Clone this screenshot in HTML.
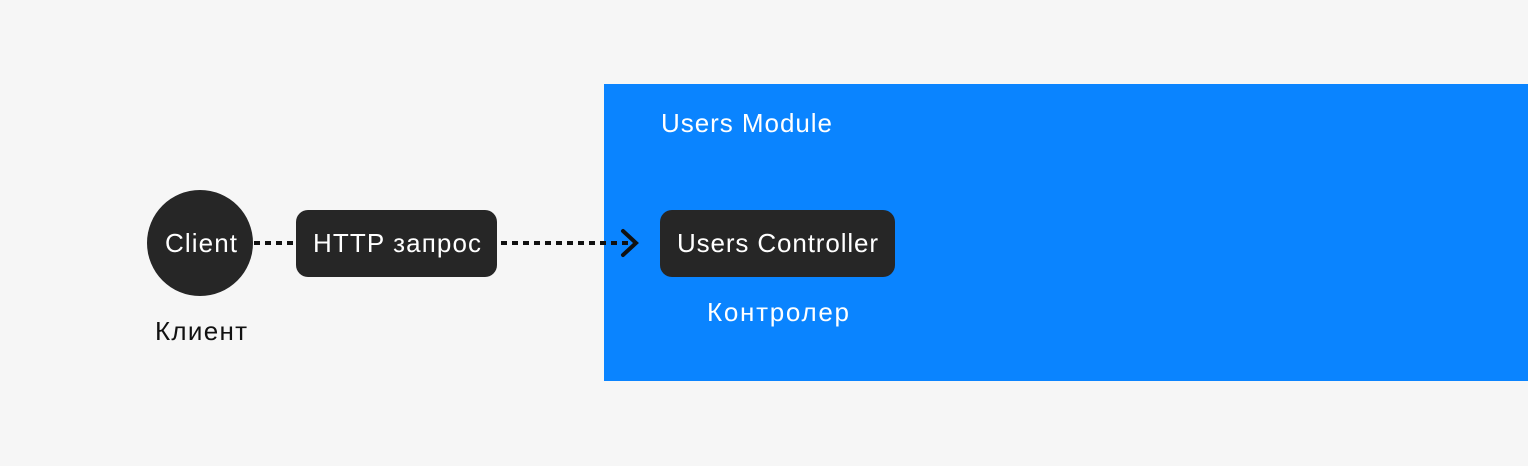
<!DOCTYPE html>
<html><head><meta charset="utf-8"><style>
html,body{margin:0;padding:0;width:1528px;height:466px;background:#f6f6f6;overflow:hidden}
svg text{font-family:"Liberation Sans",sans-serif}
</style></head><body>
<svg width="1528" height="466" xmlns="http://www.w3.org/2000/svg">
<rect x="0" y="0" width="1528" height="466" fill="#f6f6f6"/>
<rect x="604" y="84" width="924" height="297" fill="#0a84ff"/>
<text x="661" y="132" font-size="26" fill="#fff" textLength="171" lengthAdjust="spacing">Users Module</text>
<circle cx="200" cy="243" r="53" fill="#262626"/>
<text x="165" y="252" font-size="26" fill="#fff" textLength="72" lengthAdjust="spacing">Client</text>
<text x="155" y="340" font-size="26" fill="#111" textLength="92" lengthAdjust="spacing">Клиент</text>
<line x1="254" y1="243" x2="296" y2="243" stroke="#111" stroke-width="4" stroke-dasharray="6 5"/>
<rect x="296" y="210" width="201" height="67" rx="12" fill="#262626"/>
<text x="313" y="252" font-size="26" fill="#fff" textLength="168" lengthAdjust="spacing">HTTP запрос</text>
<line x1="501" y1="243" x2="634" y2="243" stroke="#111" stroke-width="4" stroke-dasharray="6 5"/>
<polyline points="623,231 636,243 623,255" fill="none" stroke="#111" stroke-width="4" stroke-linecap="round"/>
<rect x="660" y="210" width="235" height="67" rx="12" fill="#262626"/>
<text x="677" y="252" font-size="26" fill="#fff" textLength="201" lengthAdjust="spacing">Users Controller</text>
<text x="707" y="321" font-size="26" fill="#fff" textLength="142" lengthAdjust="spacing">Контролер</text>
</svg>
</body></html>
